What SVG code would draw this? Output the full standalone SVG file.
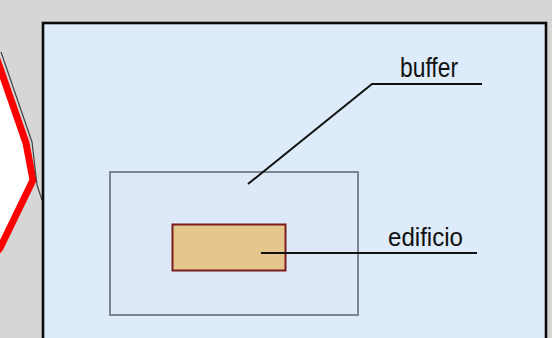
<svg xmlns="http://www.w3.org/2000/svg" width="552" height="338" viewBox="0 0 552 338">
  <style>
    .label { font-family: "Liberation Sans", Arial, sans-serif; fill: #111111; }
    .leader { fill: none; stroke: #111111; stroke-width: 2; }
  </style>
  <!-- page background -->
  <rect x="0" y="0" width="552" height="338" fill="#d6d6d6"/>

  <!-- neighbouring parcel on the left -->
  <g id="parcel">
    <polygon points="-10,40 0,68 26,143 33,180 0,248 -10,260" fill="#ffffff" stroke="#ff0000" stroke-width="7" stroke-linejoin="miter"/>
    <polyline points="1,52 32,142 37,185 42,200" fill="none" stroke="#444444" stroke-width="1.2"/>
  </g>

  <!-- map frame -->
  <g id="frame">
    <rect x="43" y="23" width="503" height="330" fill="#ddebfa" stroke="#0a0a0a" stroke-width="2.6"/>
  </g>

  <!-- buffer zone -->
  <g id="buffer">
    <rect x="110" y="172" width="248" height="143" fill="#dde9f8" stroke="#7d858e" stroke-width="2"/>
  </g>

  <!-- building footprint -->
  <g id="edificio">
    <rect x="172.5" y="224.5" width="113" height="46" fill="#e5c68c" stroke="#7b1c1c" stroke-width="2"/>
  </g>

  <!-- leader lines -->
  <g id="connectors">
    <polyline class="leader" points="248,184 372,84 482,84"/>
    <line class="leader" x1="261" y1="253" x2="477" y2="253"/>
  </g>

  <!-- labels -->
  <g id="labels">
    <text class="label" x="400" y="77" font-size="28" textLength="58" lengthAdjust="spacingAndGlyphs">buffer</text>
    <text class="label" x="388" y="246" font-size="25" textLength="75" lengthAdjust="spacingAndGlyphs">edificio</text>
  </g>
</svg>
